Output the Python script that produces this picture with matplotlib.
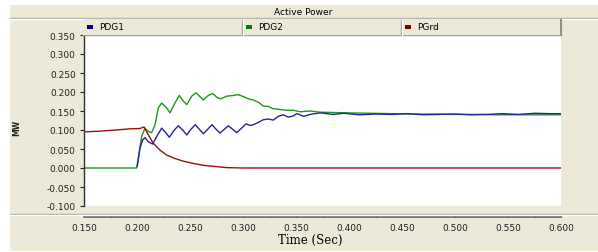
import matplotlib
matplotlib.use('Agg')
import matplotlib.pyplot as plt
from matplotlib.patches import Rectangle
from matplotlib.lines import Line2D
from matplotlib.ticker import MultipleLocator, FormatStrFormatter

# ---------------------------------------------------------------------------
# Data (time in s, power in MW)
# ---------------------------------------------------------------------------
T_PDG1 = [0.2003, 0.2028, 0.2053, 0.2075, 0.2107, 0.2148, 0.2186,
          0.2233, 0.2274, 0.2305, 0.2349, 0.2390, 0.2431, 0.2469, 0.2509, 0.2550,
          0.2588, 0.2626, 0.2667, 0.2708, 0.2745, 0.2783, 0.2824, 0.2861, 0.2903,
          0.2940, 0.2987, 0.3028, 0.3066, 0.3097, 0.3145, 0.3192, 0.3239, 0.3286,
          0.3333, 0.3380, 0.3428, 0.3475, 0.3507, 0.3538, 0.3570, 0.3650, 0.3730,
          0.3850, 0.3950, 0.4100, 0.4250, 0.4400, 0.4550, 0.4700, 0.4850, 0.5000,
          0.5150, 0.5300, 0.5450, 0.5600, 0.5750, 0.5900, 0.6000]
PDG1 = [0.005, 0.052, 0.074, 0.080, 0.069, 0.063, 0.083,
        0.105, 0.092, 0.081, 0.099, 0.111, 0.100, 0.087, 0.102, 0.114,
        0.102, 0.090, 0.102, 0.114, 0.102, 0.092, 0.102, 0.111, 0.102,
        0.093, 0.105, 0.116, 0.112, 0.114, 0.120, 0.127, 0.129, 0.126,
        0.136, 0.140, 0.134, 0.137, 0.143, 0.140, 0.136, 0.142, 0.145,
        0.141, 0.144, 0.140, 0.142, 0.141, 0.143, 0.140, 0.141, 0.142,
        0.140, 0.141, 0.143, 0.141, 0.144, 0.143, 0.143]

T_PDG2 = [0.150, 0.1997, 0.2044, 0.2075, 0.2107, 0.2139, 0.2170, 0.2201, 0.2233,
          0.2280, 0.2311, 0.2358, 0.2399, 0.2437, 0.2469, 0.2516, 0.2557, 0.2594,
          0.2626, 0.2673, 0.2714, 0.2758, 0.2790, 0.2846, 0.2909, 0.2956, 0.3003,
          0.3050, 0.3097, 0.3145, 0.3192, 0.3239, 0.3286, 0.3350, 0.3412, 0.3475,
          0.3538, 0.3630, 0.3726, 0.3850, 0.4000, 0.4200, 0.4400, 0.4600, 0.4800,
          0.5000, 0.5200, 0.5400, 0.5600, 0.5800, 0.6000]
PDG2 = [0.000, 0.000, 0.083, 0.105, 0.096, 0.093, 0.114, 0.158, 0.171,
        0.158, 0.145, 0.171, 0.191, 0.176, 0.167, 0.189, 0.198, 0.188,
        0.179, 0.191, 0.196, 0.185, 0.182, 0.189, 0.191, 0.193, 0.188,
        0.182, 0.179, 0.173, 0.163, 0.162, 0.156, 0.154, 0.152, 0.152,
        0.148, 0.150, 0.147, 0.146, 0.145, 0.144, 0.143, 0.142, 0.142,
        0.141, 0.141, 0.140, 0.140, 0.140, 0.140]

T_PGRD = [0.150, 0.165, 0.180, 0.193, 0.2028, 0.2066, 0.2107, 0.2154, 0.2217,
          0.2280, 0.2358, 0.2437, 0.2531, 0.2626, 0.2736, 0.2846, 0.3000, 0.6000]
PGRD = [0.095, 0.097, 0.100, 0.103, 0.104, 0.108, 0.087, 0.065, 0.047,
        0.034, 0.025, 0.018, 0.012, 0.007, 0.004, 0.001, 0.000, 0.000]

SERIES = ['PDG1', 'PDG2', 'PGrd']
LINE_COLORS = ['#24249E', '#1E961E', '#9A1010']
KEY_COLORS = ['#000080', '#008000', '#800000']

W, H = 598, 253
BEIGE = '#ECE9D8'


def fx(x):
    return x / W


def fy(y):
    return 1 - y / H


fig = plt.figure(figsize=(W / 100, H / 100), dpi=100, facecolor='white')

# window panel
fig.add_artist(Rectangle((fx(10), fy(252)), fx(588), (252 - 6) / H,
                         transform=fig.transFigure, facecolor=BEIGE, edgecolor='none', zorder=0))


def hline(y, x0, x1, color, lw=1.0):
    fig.add_artist(Line2D([fx(x0), fx(x1)], [fy(y), fy(y)], transform=fig.transFigure,
                          color=color, lw=lw, zorder=1))


def vline(x, y0, y1, color, lw=1.0):
    fig.add_artist(Line2D([fx(x), fx(x)], [fy(y0), fy(y1)], transform=fig.transFigure,
                          color=color, lw=lw, zorder=3))


# title bar
hline(19, 10, 598, '#A8A89A')
hline(20, 10, 598, 'white')
fig.text(fx(303), fy(12.5), 'Active Power', ha='center', va='center', fontsize=6.5, color='black')

# legend bar
fig.add_artist(Rectangle((fx(83), fy(36)), (561 - 83) / W, 16 / H, transform=fig.transFigure,
                         facecolor=BEIGE, edgecolor='none', zorder=2))
hline(21, 83, 561, 'white')
hline(35.5, 83, 561, '#A0A090')
vline(561, 21, 36, '#909080', lw=1.5)
for xd in [242, 401]:
    vline(xd, 21, 35.5, '#A0A090')
    vline(xd + 1, 21, 35.5, 'white')
key_x = [87, 246, 405]
for kx, name, kc in zip(key_x, SERIES, KEY_COLORS):
    fig.add_artist(Rectangle((fx(kx), fy(30)), 6 / W, 4 / H, transform=fig.transFigure,
                             facecolor=kc, edgecolor='none', zorder=3))
    fig.text(fx(kx + 12), fy(28), name, ha='left', va='center', fontsize=6.5, color='black', zorder=3)
hline(33.5, 416, 439, '#404040', lw=0.8)

# separator above x axis
hline(214.5, 10, 598, '#A8A89A')
hline(215.5, 10, 598, 'white')

# plot area
ax = fig.add_axes([fx(84), fy(207), (561 - 84) / W, (207 - 36) / H])
ax.set_facecolor('white')
ax.plot(T_PDG1, PDG1, color=LINE_COLORS[0], lw=1.0, zorder=3)
ax.plot(T_PDG2, PDG2, color=LINE_COLORS[1], lw=1.0, zorder=2)
ax.plot(T_PGRD, PGRD, color=LINE_COLORS[2], lw=1.0, zorder=4)

ax.set_xlim(0.15, 0.6)
ax.set_ylim(-0.1, 0.35)
ax.yaxis.set_major_locator(MultipleLocator(0.05))
ax.yaxis.set_major_formatter(FormatStrFormatter('%.3f'))
ax.xaxis.set_major_locator(MultipleLocator(0.05))
ax.xaxis.set_minor_locator(MultipleLocator(0.025))
ax.xaxis.set_major_formatter(FormatStrFormatter('%.3f'))

for s in ['top', 'right']:
    ax.spines[s].set_visible(False)
ax.spines['left'].set_color('#303030')
ax.spines['left'].set_linewidth(1.0)
ax.spines['bottom'].set_position(('outward', 8))
ax.spines['bottom'].set_color('#606060')
ax.spines['bottom'].set_linewidth(1.2)

ax.tick_params(axis='y', direction='out', length=3, width=0.8, pad=3,
               labelsize=6.5, colors='#202020')
ax.tick_params(axis='x', which='major', direction='in', length=2.5, width=0.8, pad=4,
               labelsize=6.5, colors='#202020')
ax.tick_params(axis='x', which='minor', direction='in', length=1.2, width=0.8, colors='#404040')

fig.text(fx(17), fy(128), 'MW', rotation=90, ha='center', va='center', fontsize=5.5,
         fontweight='bold', color='#202020')
fig.text(fx(310), fy(240), 'Time (Sec)', ha='center', va='center', fontsize=8.5,
         family='DejaVu Serif', color='black')

fig.savefig('out.png', dpi=100, facecolor='white')
